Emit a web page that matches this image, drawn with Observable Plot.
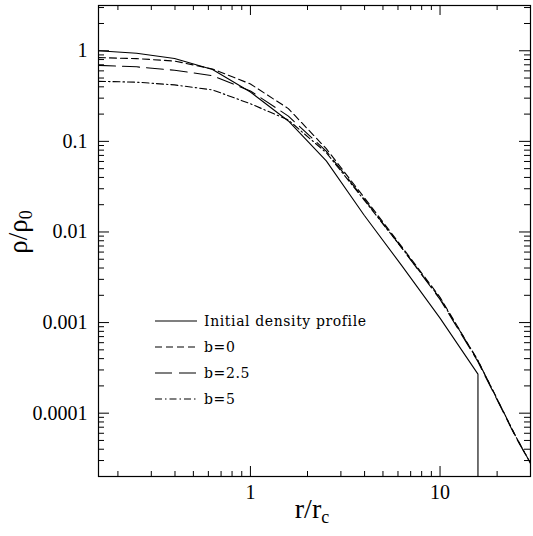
<!DOCTYPE html>
<html><head><meta charset="utf-8">
<script src="https://cdn.jsdelivr.net/npm/d3@7"></script>
<script src="https://cdn.jsdelivr.net/npm/@observablehq/plot@0.6"></script>
<style>body{margin:0;background:#fff;} #chart{position:relative;}</style>
</head><body><div id="chart"></div>
<script>
// radii r/r_c (log-spaced sample points)
const radius = [0.158, 0.251, 0.398, 0.631, 1, 1.585, 2.512, 3.981, 6.31, 10, 15.85, 25.12, 30];
// Initial density profile (truncated at r = 15.85, drops to zero)
const initialRadius = [0.158, 0.251, 0.398, 0.631, 1, 1.585, 2.512, 3.981, 6.31, 10, 15.85, 15.85];
const initialRho = [1.0, 0.94, 0.82, 0.62, 0.35, 0.168, 0.061, 0.0153, 0.0042, 0.00112, 0.00027, 1e-7];
const b0Rho  = [0.84, 0.82, 0.77, 0.63, 0.43, 0.23, 0.083, 0.024, 0.0068, 0.0019, 0.00038, 0.000055, 0.000028];
const b25Rho = [0.69, 0.665, 0.61, 0.53, 0.36, 0.19, 0.078, 0.023, 0.0066, 0.0018, 0.00037, 0.000054, 0.000028];
const b5Rho  = [0.46, 0.45, 0.42, 0.37, 0.26, 0.172, 0.075, 0.0225, 0.0066, 0.00185, 0.00038, 0.000055, 0.000028];

const seriesNames = ["Initial density profile", "b=0", "b=2.5", "b=5"];
const seriesDash = [null, "7,4", "17,7", "7,3,1.5,3"];

const xTickValues = [1, 10];
const xTickLabels = ["1", "10"];
const yTickValues = [1, 0.1, 0.01, 0.001, 0.0001];
const yTickLabels = ["1", "0.1", "0.01", "0.001", "0.0001"];
const xMinor = [0.2,0.3,0.4,0.5,0.6,0.7,0.8,0.9,2,3,4,5,6,7,8,9,20];
const yMinor = [];
[1e-5,1e-4,1e-3,1e-2,1e-1,1].forEach(p => [2,3,4,5,6,7,8,9].forEach(m => {
  const v = +(m*p).toPrecision(3); if (v >= 2e-5 && v <= 3.1) yMinor.push(v);
}));

const W = 533, Hh = 536, mT = 5, mR = 3, mB = 60, mL = 98;
const innerH = Hh - mT - mB, innerW = W - mL - mR;

const toRows = (xs, ys) => xs.map((r, i) => ({r, rho: ys[i]}));
const seriesData = [
  toRows(initialRadius, initialRho),
  toRows(radius, b0Rho),
  toRows(radius, b25Rho),
  toRows(radius, b5Rho)
];

const plot = Plot.plot({
  width: W, height: Hh,
  marginTop: mT, marginRight: mR, marginBottom: mB, marginLeft: mL,
  style: {fontFamily: "Liberation Serif", fontSize: "20px", color: "#000", background: "#fff"},
  x: {type: "log", domain: [0.158, 30]},
  y: {type: "log", domain: [2e-5, 3.16]},
  marks: [
    ...seriesData.map((d, i) => Plot.line(d, {x: "r", y: "rho", stroke: "#000", strokeWidth: 1.1,
        strokeDasharray: seriesDash[i], clip: true})),
    Plot.frame({stroke: "#000", strokeWidth: 1.2}),
    // inward ticks: bottom/top
    Plot.ruleX(xTickValues, {x: d => d, insetTop: innerH - 10, stroke: "#000"}),
    Plot.ruleX(xTickValues, {x: d => d, insetBottom: innerH - 10, stroke: "#000"}),
    Plot.ruleX(xMinor, {x: d => d, insetTop: innerH - 5, stroke: "#000"}),
    Plot.ruleX(xMinor, {x: d => d, insetBottom: innerH - 5, stroke: "#000"}),
    // inward ticks: left/right
    Plot.ruleY(yTickValues, {y: d => d, insetRight: innerW - 11, stroke: "#000"}),
    Plot.ruleY(yTickValues, {y: d => d, insetLeft: innerW - 11, stroke: "#000"}),
    Plot.ruleY(yMinor, {y: d => d, insetRight: innerW - 6, stroke: "#000"}),
    Plot.ruleY(yMinor, {y: d => d, insetLeft: innerW - 6, stroke: "#000"}),
    Plot.axisX({ticks: xTickValues, tickSize: 0, tickPadding: 8, label: null,
      tickFormat: d => xTickLabels[xTickValues.indexOf(d)]}),
    Plot.axisY({ticks: yTickValues, tickSize: 0, tickPadding: 11, label: null,
      tickFormat: d => yTickLabels[yTickValues.indexOf(d)]})
  ]
});
document.getElementById("chart").appendChild(plot);

const svg = d3.select(plot);
// Legend
const legendRows = [321, 347, 373, 399];
const lg = svg.append("g");
seriesNames.forEach((name, i) => {
  lg.append("line").attr("x1", 155).attr("x2", 197).attr("y1", legendRows[i]).attr("y2", legendRows[i])
    .attr("stroke", "#000").attr("stroke-width", 1.1).attr("stroke-dasharray", seriesDash[i]);
  lg.append("text").attr("x", 204).attr("y", legendRows[i]).attr("dy", "0.35em")
    .attr("text-anchor", "start")
    .style("font-family", "DejaVu Serif").style("font-size", "14px").style("letter-spacing", "0.6px")
    .attr("fill", "#000").text(name);
});
// Axis titles
const yt = svg.append("text").attr("transform", "translate(27,232) rotate(-90)")
  .attr("text-anchor", "middle").style("font-family", "Liberation Serif").style("font-size", "27px").attr("fill", "#000");
yt.append("tspan").text("ρ/ρ");
yt.append("tspan").attr("dy", "0.3em").style("font-size", "18px").text("0");
const xt = svg.append("text").attr("x", 312).attr("y", 518)
  .attr("text-anchor", "middle").style("font-family", "Liberation Serif").style("font-size", "28px").attr("fill", "#000");
xt.append("tspan").text("r/r");
xt.append("tspan").attr("dy", "0.3em").style("font-size", "18px").text("c");
</script>
</body></html>
